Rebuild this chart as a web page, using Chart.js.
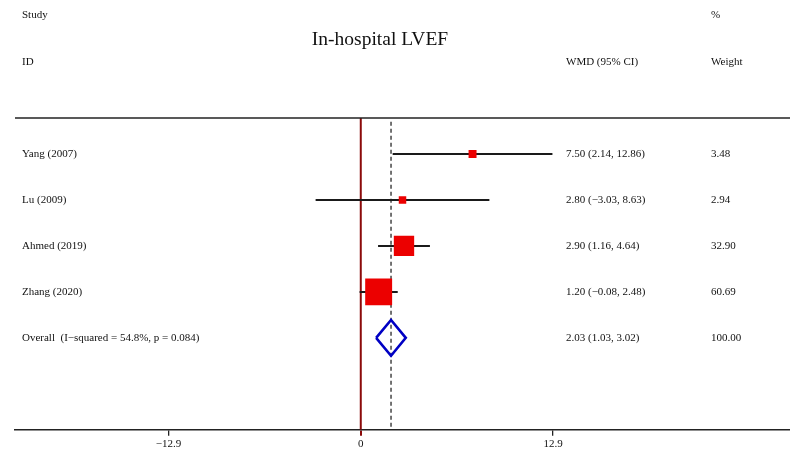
<!DOCTYPE html>
<html>
<head>
<meta charset="utf-8">
<script src="https://cdn.jsdelivr.net/npm/chart.js@4/dist/chart.umd.min.js"></script>
<style>
  html, body { margin: 0; padding: 0; background: #fff; }
  #wrap { width: 790px; height: 456px; }
</style>
</head>
<body>
<div id="wrap"><canvas id="c" width="790" height="456"></canvas></div>
<script>
// ---- data ----
const title = 'In-hospital LVEF';
const studies = ['Yang (2007)', 'Lu (2009)', 'Ahmed (2019)', 'Zhang (2020)'];
const wmd = [7.50, 2.80, 2.90, 1.20];
const lower = [2.14, -3.03, 1.16, -0.08];
const upper = [12.86, 8.63, 4.64, 2.48];
const weights = [3.48, 2.94, 32.90, 60.69];
const overallLabel = 'Overall  (I\u2212squared = 54.8%, p = 0.084)';
const overallEst = 2.03;
const overallLower = 1.03;
const overallUpper = 3.02;
const overallWeight = 100.00;
const tickValues = [-12.9, 0, 12.9];
const tickLabels = ['\u221212.9', '0', '12.9'];

// ---- helpers ----
const fmt = v => (v < 0 ? '\u2212' : '') + Math.abs(v).toFixed(2);
const ciText = (e, l, u) => fmt(e) + ' (' + fmt(l) + ', ' + fmt(u) + ')';
const nRows = studies.length + 1;
const Y_MIN = 0.217, Y_MAX = 7.0;
const overallRow = nRows;

const datasets = [];
// CI lines
studies.forEach((s, i) => {
  datasets.push({
    label: s + ' CI',
    data: [{x: lower[i], y: i + 1}, {x: upper[i], y: i + 1}],
    showLine: true, borderColor: '#1a1a1a', borderWidth: 2,
    pointRadius: 0, order: 1
  });
});
// squares
datasets.push({
  label: 'Estimates',
  data: wmd.map((v, i) => ({x: v, y: i + 1})),
  pointStyle: 'rect',
  pointRadius: weights.map(w => (2 + 3.2 * Math.sqrt(w)) / Math.SQRT2),
  backgroundColor: 'rgb(236,0,0)', borderWidth: 0, order: 0
});
// diamond
const dh = 0.39;
datasets.push({
  label: 'Overall',
  data: [
    {x: overallLower, y: overallRow},
    {x: overallEst, y: overallRow - dh},
    {x: overallUpper, y: overallRow},
    {x: overallEst, y: overallRow + dh},
    {x: overallLower, y: overallRow}
  ],
  showLine: true, borderColor: '#0000c4', borderWidth: 2.6,
  pointRadius: 0, fill: false, order: 0, borderJoinStyle: 'miter'
});
// null line
datasets.push({
  label: 'No effect',
  data: [{x: 0, y: Y_MIN}, {x: 0, y: Y_MAX}],
  showLine: true, borderColor: '#8b0a0a', borderWidth: 2,
  pointRadius: 0, order: 2
});
// overall dashed line
datasets.push({
  label: 'Overall line',
  data: [{x: overallEst, y: Y_MIN + 0.08}, {x: overallEst, y: Y_MAX}],
  showLine: true, borderColor: '#444', borderWidth: 1.5, borderDash: [4, 3],
  pointRadius: 0, order: 2
});

const FONT = '"Liberation Serif", "Times New Roman", serif';

const textPlugin = {
  id: 'forestText',
  afterDraw(chart) {
    const ctx = chart.ctx;
    const ca = chart.chartArea;
    const y = chart.scales.y;
    ctx.save();
    // top rule
    ctx.strokeStyle = '#222';
    ctx.lineWidth = 1.5;
    ctx.beginPath();
    ctx.moveTo(ca.left, ca.top);
    ctx.lineTo(ca.right, ca.top);
    ctx.stroke();

    ctx.fillStyle = '#111';
    ctx.textBaseline = 'middle';
    ctx.textAlign = 'left';
    ctx.font = '11px ' + FONT;
    ctx.fillText('Study', 22, 15);
    ctx.fillText('ID', 22, 62);
    ctx.fillText('%', 711, 15);
    ctx.fillText('WMD (95% CI)', 566, 62);
    ctx.fillText('Weight', 711, 62);

    ctx.font = '19.5px ' + FONT;
    ctx.textAlign = 'center';
    ctx.fillText(title, 380, 40);

    ctx.textAlign = 'left';
    ctx.font = '11px ' + FONT;
    studies.forEach((s, i) => {
      const py = y.getPixelForValue(i + 1);
      ctx.fillText(s, 22, py);
      ctx.fillText(ciText(wmd[i], lower[i], upper[i]), 566, py);
      ctx.fillText(weights[i].toFixed(2), 711, py);
    });
    const oy = y.getPixelForValue(overallRow);
    ctx.fillText(overallLabel, 22, oy);
    ctx.fillText(ciText(overallEst, overallLower, overallUpper), 566, oy);
    ctx.fillText(overallWeight.toFixed(2), 711, oy);
    ctx.restore();
  }
};

new Chart(document.getElementById('c'), {
  type: 'scatter',
  data: { datasets },
  options: {
    responsive: false,
    animation: false,
    layout: { autoPadding: false, padding: { left: 15, top: 118, right: 0, bottom: 3 } },
    plugins: { legend: { display: false }, tooltip: { enabled: false } },
    scales: {
      x: {
        type: 'linear', min: -23.2, max: 28.8,
        afterBuildTicks: axis => { axis.ticks = tickValues.map(v => ({value: v})); },
        ticks: {
          autoSkip: false, maxRotation: 0, padding: 2,
          color: '#111', font: { family: FONT, size: 11 },
          callback: (v) => { const k = tickValues.indexOf(v); return k >= 0 ? tickLabels[k] : ''; }
        },
        grid: {
          display: true, drawOnChartArea: false, drawTicks: true, tickLength: 6,
          color: c => (c.tick && c.tick.value === 0) ? '#8b0a0a' : '#222',
          lineWidth: c => (c.tick && c.tick.value === 0) ? 2 : 1.3
        },
        border: { display: true, color: '#222', width: 1.5 }
      },
      y: {
        type: 'linear', reverse: true, min: Y_MIN, max: Y_MAX, display: false
      }
    }
  },
  plugins: [textPlugin]
});
</script>
</body>
</html>
